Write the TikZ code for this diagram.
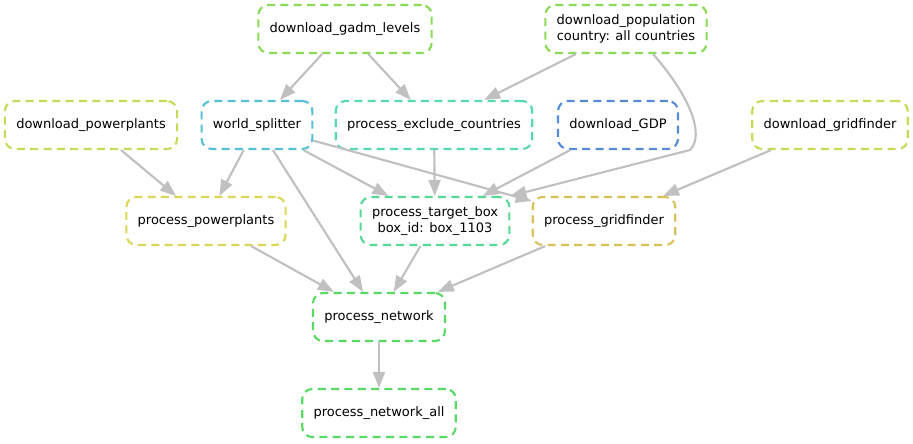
\documentclass[tikz,border=0pt]{standalone}
\usepackage{fontspec}
\setmainfont{DejaVu Sans}
\usetikzlibrary{arrows.meta}
\usetikzlibrary{calc}
\definecolor{edgegrey}{RGB}{192,192,192}
\definecolor{limegreen}{RGB}{138,217,87}
\definecolor{yellowgreen}{RGB}{200,217,87}
\definecolor{cyanblue}{RGB}{87,192,217}
\definecolor{teal}{RGB}{87,217,176}
\definecolor{steelblue}{RGB}{87,139,217}
\definecolor{paleyellow}{RGB}{217,215,87}
\definecolor{seagreen}{RGB}{87,217,150}
\definecolor{ochre}{RGB}{217,192,87}
\definecolor{brightgreen}{RGB}{87,217,100}

\begin{document}
\begin{tikzpicture}[
    x=0.75pt, y=-0.75pt,
    >={Triangle[width=9pt, length=12pt]},
    job/.style = {
        rectangle,
        rounded corners=7.5pt,
        dash pattern=on 6pt off 4pt,
        line width=1.6pt,
        minimum height=36pt,
        inner xsep=8.5pt,
        align=center,
        font=\fontsize{9.75}{12}\selectfont,
      },
    edge/.style = {
        ->,
        draw=edgegrey,
        line width=1.6pt,
      },
    ]
    \useasboundingbox (0,0) rectangle (913,443);

    \node (gadm) [job, draw=limegreen] at (345,29) {download\_gadm\_levels};
    \node (population) [job, draw=limegreen] at (626,29) {download\_population\\country: all countries};

    \node (powerplants) [job, draw=yellowgreen] at (91,125) {download\_powerplants};
    \node (splitter) [job, draw=cyanblue] at (257,125) {world\_splitter};
    \node (exclude) [job, draw=teal] at (434,125) {process\_exclude\_countries};
    \node (gdp) [job, draw=steelblue] at (618,125) {download\_GDP};
    \node (gridfinder) [job, draw=yellowgreen] at (830,125) {download\_gridfinder};

    \node (ppowerplants) [job, draw=paleyellow] at (206,221) {process\_powerplants};
    \node (targetbox) [job, draw=seagreen] at (435,221) {process\_target\_box\\box\_id: box\_1103};
    \node (pgridfinder) [job, draw=ochre] at (604,221) {process\_gridfinder};

    \node (network) [job, draw=brightgreen] at (379,317) {process\_network};
    \node (networkall) [job, draw=brightgreen] at (379,413) {process\_network\_all};

    \coordinate (popbend) at (690,150);

    \draw [edge] (gadm) -- (splitter);
    \draw [edge] (gadm) -- (exclude);
    \draw [edge] (population) -- (exclude);
    \draw [edge] ($(population.south)+(27,0)$) .. controls +(37,42) and +(15,-15) .. (popbend) -- (targetbox.north east);
    \draw [edge] (powerplants) -- (ppowerplants);
    \draw [edge] (splitter) -- (ppowerplants);
    \draw [edge] (splitter) -- (network);
    \draw [edge] (splitter) -- (targetbox);
    \draw [edge] (splitter) -- (pgridfinder);
    \draw [edge] (exclude) -- (targetbox);
    \draw [edge] (gdp) -- (targetbox);
    \draw [edge] (gridfinder) -- (pgridfinder);
    \draw [edge] (ppowerplants) -- (network);
    \draw [edge] (targetbox) -- (network);
    \draw [edge] (pgridfinder) -- (network);
    \draw [edge] (network) -- (networkall);
  \end{tikzpicture}
\end{document}
